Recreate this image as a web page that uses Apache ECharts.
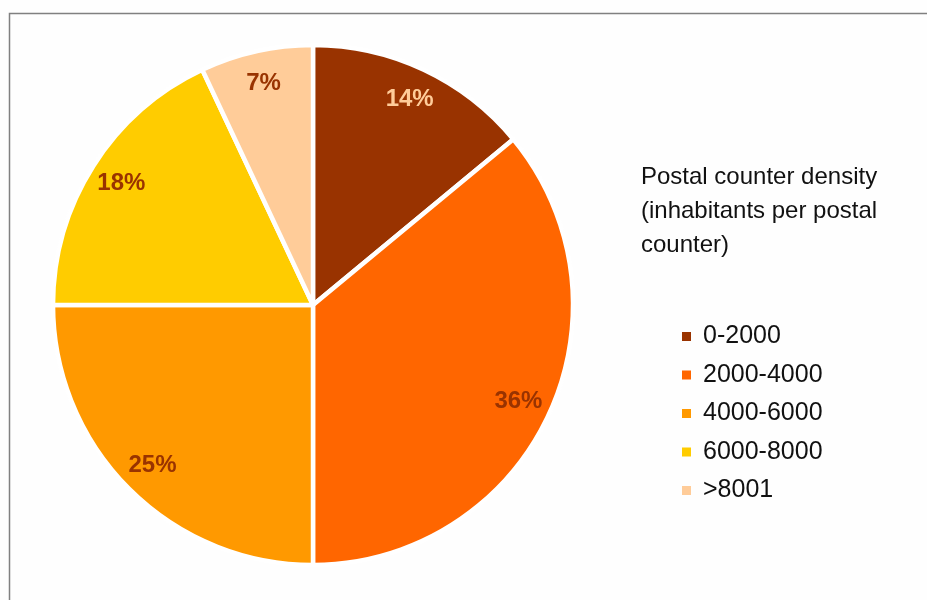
<!DOCTYPE html>
<html>
<head>
<meta charset="utf-8">
<script src="https://cdn.jsdelivr.net/npm/echarts@6/dist/echarts.min.js"></script>
<style>
  html, body { margin: 0; padding: 0; background: #fefefe; }
  #chart { width: 927px; height: 600px; }
</style>
</head>
<body>
<div id="chart"></div>
<script>
// Share of postal counters by density band
const categories = ['0-2000', '2000-4000', '4000-6000', '6000-8000', '>8001'];
const shares = [14, 36, 25, 18, 7];
const sliceColors = ['#993300', '#FF6600', '#FF9900', '#FFCC00', '#FFCC99'];
const labelColors = ['#FFCC99', '#993300', '#993300', '#993300', '#993300'];
const legendTitle = 'Postal counter density\n(inhabitants per postal\ncounter)';

const FONT = '"Liberation Sans", Arial, Helvetica, sans-serif';

const slices = categories.map((name, i) => ({
  name,
  value: shares[i],
  itemStyle: { color: sliceColors[i] }
}));

// Transparent ring used only to place the percentage labels near the rim
const labelRing = categories.map((name, i) => ({
  name,
  value: shares[i],
  label: { color: labelColors[i] }
}));

const chart = echarts.init(document.getElementById('chart'), null, { renderer: 'canvas' });

chart.setOption({
  backgroundColor: '#fefefe',
  animation: false,
  title: {
    text: legendTitle,
    left: 641,
    top: 160,
    padding: 0,
    textStyle: {
      fontFamily: FONT,
      fontSize: 24,
      fontWeight: 'normal',
      color: '#111',
      lineHeight: 34
    }
  },
  legend: {
    orient: 'vertical',
    left: 682,
    top: 324,
    padding: 0,
    itemWidth: 9,
    itemHeight: 9,
    itemGap: 13.5,
    icon: 'rect',
    data: categories,
    itemStyle: { borderWidth: 0 },
    textStyle: {
      fontFamily: FONT,
      fontSize: 25,
      lineHeight: 25,
      color: '#111',
      padding: [0, 0, 0, 7]
    }
  },
  graphic: [{
    type: 'polyline',
    shape: { points: [[9.5, 600], [9.5, 13.5], [927, 13.5]] },
    style: { stroke: '#808080', lineWidth: 1.5, fill: null },
    silent: true
  }],
  series: [
    {
      type: 'pie',
      center: [313, 305],
      radius: [0, 260],
      startAngle: 90,
      clockwise: true,
      avoidLabelOverlap: false,
      data: slices,
      label: { show: false },
      labelLine: { show: false },
      itemStyle: { borderColor: '#ffffff', borderWidth: 4.5 },
      emphasis: { disabled: true }
    },
    {
      type: 'pie',
      center: [313, 305],
      radius: [190, 258],
      startAngle: 90,
      clockwise: true,
      silent: true,
      avoidLabelOverlap: false,
      data: labelRing,
      itemStyle: { color: 'rgba(0,0,0,0)', borderWidth: 0 },
      label: {
        show: true,
        position: 'inside',
        formatter: '{c}%',
        fontFamily: FONT,
        fontSize: 24,
        fontWeight: 'bold'
      },
      labelLine: { show: false },
      emphasis: { disabled: true }
    }
  ]
});
</script>
</body>
</html>
